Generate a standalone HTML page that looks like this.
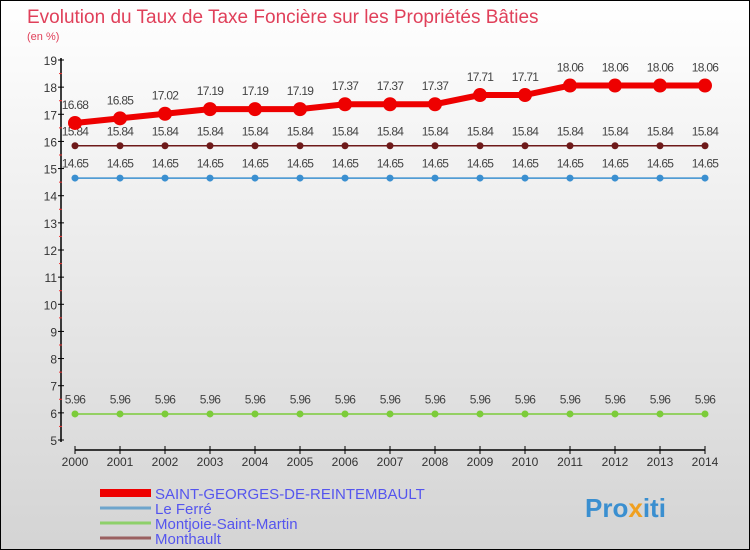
<!DOCTYPE html>
<html><head><meta charset="utf-8"><style>
body{margin:0}
#wrap{position:relative;width:750px;height:550px;box-sizing:border-box;border:1px solid #000;background:linear-gradient(#fff,#d4d4d4);font-family:"Liberation Sans",sans-serif;overflow:hidden}
</style></head><body>
<div id="wrap">
<svg id="c" width="750" height="550" style="position:absolute;left:-1px;top:-1px">
<text x="27" y="23" font-size="19" fill="#e0405a">Evolution du Taux de Taxe Foncière sur les Propriétés Bâties</text>
<text x="27" y="40" font-size="11" fill="#e0405a">(en %)</text>
<text x="585" y="517" font-size="26" font-weight="bold" fill="#3a8fd0">Pro<tspan fill="#f0a020">x</tspan>iti</text>
</svg>
</div>
<script>
const years=[2000,2001,2002,2003,2004,2005,2006,2007,2008,2009,2010,2011,2012,2013,2014];
const yTicks=[5,6,7,8,9,10,11,12,13,14,15,16,17,18,19];
const sStGeorges=[16.68,16.85,17.02,17.19,17.19,17.19,17.37,17.37,17.37,17.71,17.71,18.06,18.06,18.06,18.06];
const sLeFerre=[14.65,14.65,14.65,14.65,14.65,14.65,14.65,14.65,14.65,14.65,14.65,14.65,14.65,14.65,14.65];
const sMontjoie=[5.96,5.96,5.96,5.96,5.96,5.96,5.96,5.96,5.96,5.96,5.96,5.96,5.96,5.96,5.96];
const sMonthault=[15.84,15.84,15.84,15.84,15.84,15.84,15.84,15.84,15.84,15.84,15.84,15.84,15.84,15.84,15.84];
const names=["SAINT-GEORGES-DE-REINTEMBAULT","Le Ferré","Montjoie-Saint-Martin","Monthault"];
const NS="http://www.w3.org/2000/svg";
const svg=document.getElementById('c');
const X=i=>75+i*(630/(years.length-1));
const Y=v=>60+(19-v)*(380/14);
function mk(t,a,p){const e=document.createElementNS(NS,t);for(const k in a)e.setAttribute(k,a[k]);(p||svg).appendChild(e);return e;}
let ax=mk('line',{x1:61,y1:58,x2:61,y2:442,stroke:'#000','stroke-width':1.5});


yTicks.forEach(v=>{
 mk('line',{x1:58,x2:64,y1:Y(v),y2:Y(v),stroke:'#000'});
 if(v<19)mk('line',{x1:59,x2:62,y1:Y(v+0.5),y2:Y(v+0.5),stroke:'#e33'});
 let t=mk('text',{x:57,y:Y(v)+5,'font-size':12,'text-anchor':'end',fill:'#333'});t.textContent=v;
 
 
});
let xa=mk('line',{x1:75,y1:450,x2:705,y2:450,stroke:'#000','stroke-width':1.5});


years.forEach((y,i)=>{
 mk('line',{x1:X(i),x2:X(i),y1:446,y2:454,stroke:'#000'});
 let t=mk('text',{x:X(i),y:466,'font-size':12,'text-anchor':'middle',fill:'#333'});t.textContent=y;
 
 
});
function series(d,col,w,r,nm){
 let g=mk('g',{});
 
 
 mk('polyline',{points:d.map((v,i)=>X(i)+','+Y(v)).join(' '),fill:'none',stroke:col,'stroke-width':w},g);
 d.forEach((v,i)=>{
  let c=mk('circle',{cx:X(i),cy:Y(v),r:r,fill:col},g);
  
  
  let t=mk('text',{x:X(i),y:Y(v)-(r+7),'font-size':12,'text-anchor':'middle',fill:'#444','letter-spacing':'-0.7'},g);
  t.textContent=v.toFixed(2).replace(/0$/,'');
  
  
 });
}
series(sMontjoie,'#7ccc3a',1.5,3.5,'series-montjoie');
series(sLeFerre,'#3a8fd0',1.5,3.5,'series-le-ferre');
series(sMonthault,'#6e1a1a',1.5,3.5,'series-monthault');
series(sStGeorges,'#ee0000',6,7,'series-saint-georges');
const lc=['#ee0000','#6ea5cc','#8ed06a','#9a6060'],lw=[8,3,3,3];
names.forEach((n,i)=>{
 const y=493+i*15;
 let g=mk('g',{});
 
 
 mk('line',{x1:100,x2:151,y1:y,y2:y,stroke:lc[i],'stroke-width':lw[i]},g);
 let t=mk('text',{x:155,y:y+6,'font-size':15,fill:'#5555ee'},g);t.textContent=n;
});
</script>
</body></html>
